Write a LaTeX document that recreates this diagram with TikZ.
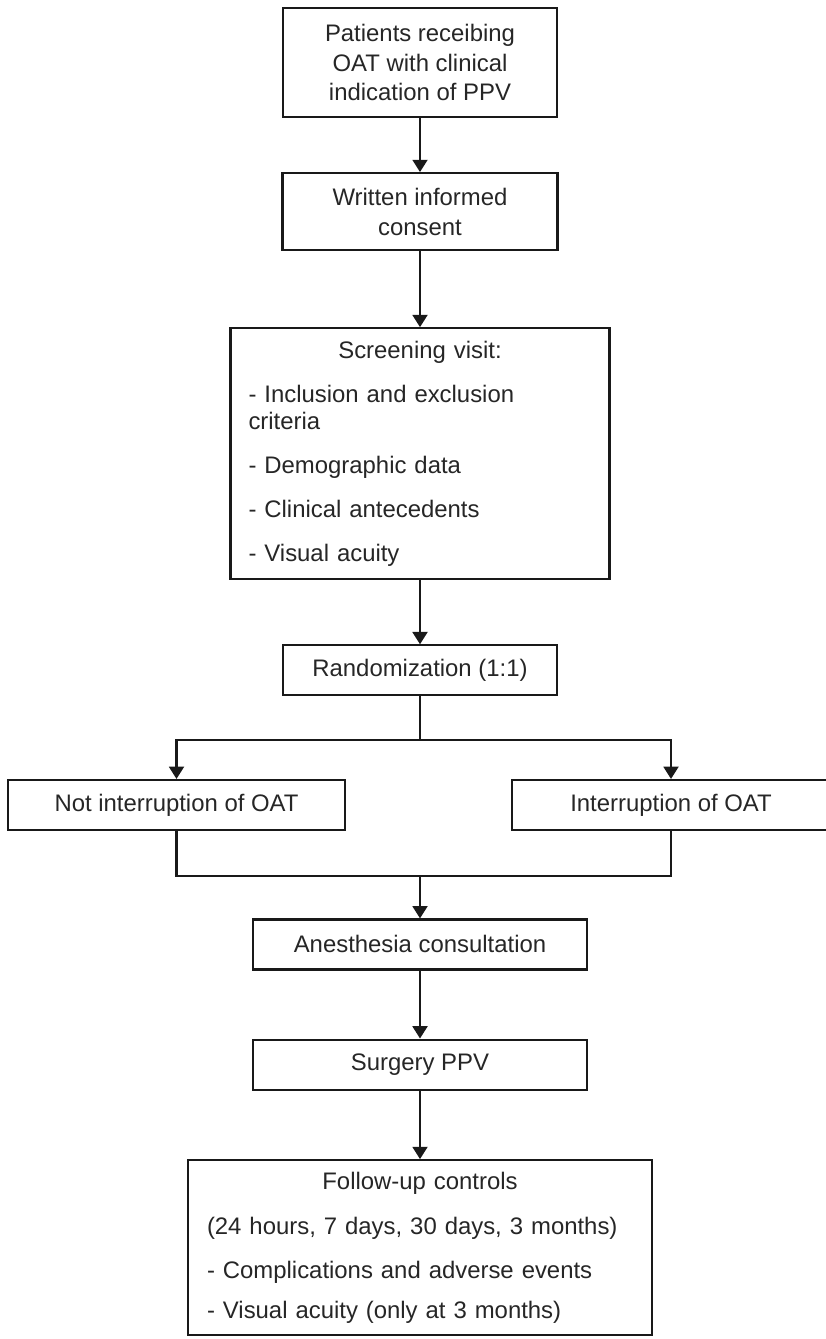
\documentclass[tikz,border=0pt]{standalone}
\usepackage{fontspec}
\setmainfont{Liberation Sans}
\usepackage{tikz}
\usetikzlibrary{arrows.meta,positioning,calc}

\begin{document}
\begin{tikzpicture}[
  x=1cm,y=1cm,
  box/.style={
    draw=black!90,
    line width=1.2pt,
    align=center,
    inner xsep=0.2cm,
    inner ysep=0pt,
    minimum height=1cm,
    text=black!85,
    font=\fontsize{13.6}{17}\selectfont
  },
  listbox/.style={
    box,
    align=left,
    font=\fontsize{13.6}{15.5}\selectfont
  },
flow/.style={
  draw=black!90,
  line width=1.2pt,
  -{Triangle[length=7pt,width=8.5pt]}
},
  plain/.style={draw=black!90, line width=1.2pt},
]
\useasboundingbox (0,0) rectangle (16.5,-26.78);

% Nodes (main column)
\node[box, minimum width=5.48cm, minimum height=2.18cm] (patients) at (8.40,-1.25)
  {Patients receibing\\OAT with clinical\\indication of PPV};
\node[box, minimum width=5.5cm, minimum height=1.54cm, below=1.08cm of patients] (consent)
  {Written informed\\consent};
\node[listbox, text width=6.86cm, inner xsep=0.36cm, minimum height=5.02cm,
      below=1.52cm of consent] (screen)
  {\makebox[\linewidth]{Screening visit:}\\[9.5pt]
   - Inclusion and exclusion\\
   criteria\\[9.5pt]
   - Demographic data\\[9.5pt]
   - Clinical antecedents\\[9.5pt]
   - Visual acuity};
\node[box, minimum width=5.48cm, below=1.28cm of screen] (random) {Randomization (1:1)};

% Two arms
\node[box, minimum width=6.74cm] (noint) at (3.53,-16.10) {Not interruption of OAT};
\node[box, minimum width=6.36cm] (inter) at (13.42,-16.10) {Interruption of OAT};

% Lower column
\node[box, minimum width=6.68cm, below=4.44cm of random] (anest) {Anesthesia consultation};
\node[box, minimum width=6.68cm, below=1.36cm of anest] (surgery) {Surgery PPV};
\node[listbox, text width=8.52cm, inner xsep=0.38cm, minimum height=3.5cm,
      font=\fontsize{13.6}{16}\selectfont, below=1.37cm of surgery] (follow)
  {\makebox[\linewidth]{Follow-up controls}\\[9.5pt]
   (24 hours, 7 days, 30 days, 3 months)\\[9pt]
   - Complications and adverse events\\[7pt]
   - Visual acuity (only at 3 months)};

% Straight arrows
\draw[flow] (patients) -- (consent);
\draw[flow] (consent) -- (screen);
\draw[flow] (screen) -- (random);

% Split into the two arms
\draw[plain] (random.south) -- ++(0,-0.88) coordinate (split);
\draw[flow] (split) -| (noint.north);
\draw[flow] (split) -| (inter.north);

% Arms join again
\coordinate (join) at ($(anest.north)+(0,0.84)$);
\draw[plain] (noint.south) |- (join);
\draw[plain] (inter.south) |- (join);
\draw[flow] (join) -- (anest.north);

\draw[flow] (anest) -- (surgery);
\draw[flow] (surgery) -- (follow);

\end{tikzpicture}
\end{document}
